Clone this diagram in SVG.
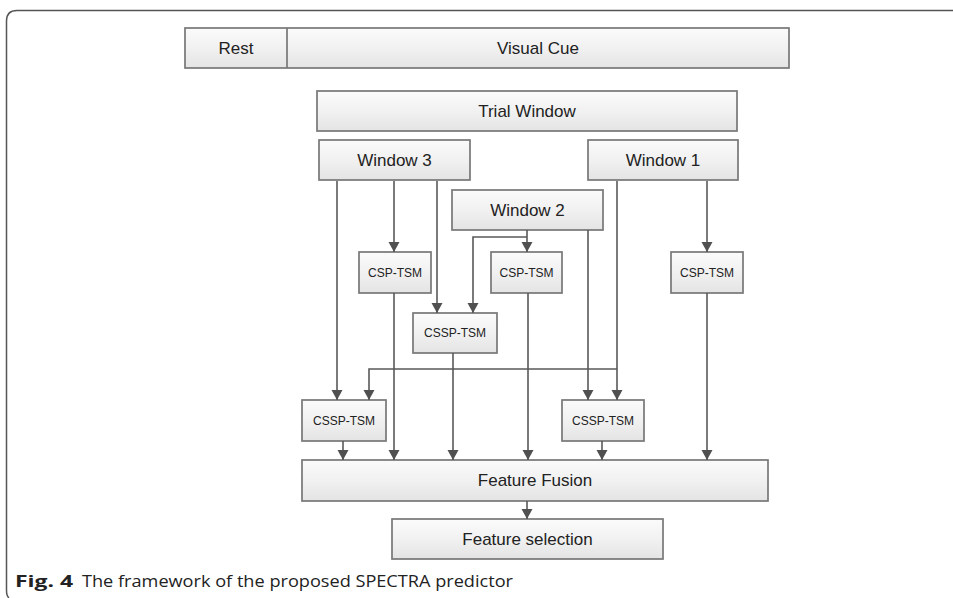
<svg xmlns="http://www.w3.org/2000/svg" width="953" height="598" viewBox="0 0 953 598">
<defs>
<linearGradient id="g" x1="0" y1="0" x2="0" y2="1">
<stop offset="0" stop-color="#fbfbfb"/>
<stop offset="0.5" stop-color="#f1f1f1"/>
<stop offset="1" stop-color="#e4e4e4"/>
</linearGradient>
<marker id="ah" markerUnits="userSpaceOnUse" markerWidth="12" markerHeight="12" refX="10" refY="5.5" orient="auto">
<path d="M0,0 L10,5.5 L0,11 z" fill="#505050"/>
</marker>
<style>
.box{fill:url(#g);stroke:#777;stroke-width:1.7}
.t{font-family:"Liberation Sans",Arial,sans-serif;fill:#222;text-anchor:middle}
.big{font-size:17px}
.sm{font-size:12px}
.c{fill:none;stroke:#595959;stroke-width:1.6}
.a{marker-end:url(#ah)}
.cap{font-family:"Open Sans","Liberation Sans",sans-serif;font-size:16px;fill:#222}
</style>
</defs>
<rect width="953" height="598" fill="#fff"/>
<path d="M953,10.5 H17 Q6.5,10.5 6.5,21 V590 Q6.5,596 9,598" fill="none" stroke="#555" stroke-width="1.5"/>

<g id="timeline">
<rect class="box" x="185" y="28" width="604" height="40"/>
<line x1="287" y1="28" x2="287" y2="68" stroke="#777" stroke-width="1.7"/>
<text class="t big" x="236" y="54">Rest</text>
<text class="t big" x="538" y="54">Visual Cue</text>
</g>
<g id="trial"><rect class="box" x="317" y="91" width="420" height="40"/><text class="t big" x="527" y="117">Trial Window</text></g>
<g id="w3"><rect class="box" x="319" y="140" width="151" height="40"/><text class="t big" x="394.5" y="166">Window 3</text></g>
<g id="w1"><rect class="box" x="588" y="140" width="150" height="40"/><text class="t big" x="663" y="166">Window 1</text></g>
<g id="w2"><rect class="box" x="452" y="190" width="151" height="40"/><text class="t big" x="527.5" y="216">Window 2</text></g>
<g id="csp1"><rect class="box" x="359" y="252" width="72" height="41"/><text class="t sm" x="395" y="277">CSP-TSM</text></g>
<g id="csp2"><rect class="box" x="491" y="252" width="71" height="41"/><text class="t sm" x="526.5" y="277">CSP-TSM</text></g>
<g id="csp3"><rect class="box" x="671" y="252" width="72" height="41"/><text class="t sm" x="707" y="277">CSP-TSM</text></g>
<g id="cssp2"><rect class="box" x="413" y="313" width="84" height="40"/><text class="t sm" x="455" y="337">CSSP-TSM</text></g>
<g id="cssp1"><rect class="box" x="302" y="400" width="84" height="41"/><text class="t sm" x="344" y="425">CSSP-TSM</text></g>
<g id="cssp3"><rect class="box" x="562" y="400" width="82" height="41"/><text class="t sm" x="603" y="425">CSSP-TSM</text></g>
<g id="fusion"><rect class="box" x="302" y="460" width="466" height="41"/><text class="t big" x="535" y="486">Feature Fusion</text></g>
<g id="selection"><rect class="box" x="392" y="519" width="271" height="40"/><text class="t big" x="527.5" y="545">Feature selection</text></g>

<g id="connectors">
<path class="c a" d="M337,181 V400"/>
<path class="c a" d="M394,181 V252"/>
<path class="c a" d="M437,181 V313"/>
<path class="c a" d="M527,230 V252"/>
<path class="c a" d="M527,237 H473 V313"/>
<path class="c a" d="M588,230 V400"/>
<path class="c a" d="M617,181 V400"/>
<path class="c a" d="M617,369 H369 V400"/>
<path class="c a" d="M707,181 V252"/>
<path class="c a" d="M394,293 V460"/>
<path class="c a" d="M528,293 V460"/>
<path class="c a" d="M707,293 V460"/>
<path class="c a" d="M453,353 V460"/>
<path class="c a" d="M343,441 V460"/>
<path class="c a" d="M602,441 V460"/>
<path class="c a" d="M527,501 V519"/>
</g>

<text class="cap" x="15" y="587"><tspan font-weight="bold" textLength="58" lengthAdjust="spacingAndGlyphs">Fig. 4</tspan><tspan x="82" textLength="431" lengthAdjust="spacingAndGlyphs">The framework of the proposed SPECTRA predictor</tspan></text>
</svg>
